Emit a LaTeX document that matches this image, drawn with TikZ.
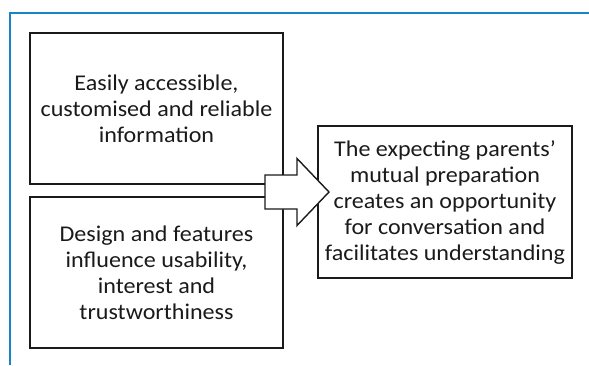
\documentclass[tikz,border=0pt]{standalone}
\usepackage{fontspec}
\setmainfont{Carlito}[FakeStretch=1.07]
\usetikzlibrary{positioning,calc}
\definecolor{frameblue}{RGB}{24,133,199}
\definecolor{ink}{RGB}{26,26,26}

\begin{document}
\begin{tikzpicture}[
    x=1pt, y=-1pt,
    font=\fontsize{22.5}{26}\selectfont,
    theme/.style={draw=ink, text=ink, line width=1.4pt, minimum width=253pt,
                  minimum height=151pt, align=center, inner sep=0pt, outer sep=0pt},
    outcome/.style={theme, minimum width=254pt, minimum height=152pt},
    bigarrow/.style={draw=ink, line width=1.4pt, fill=white, line join=miter},
    frame/.style={frameblue, line width=2pt},
  ]
  \useasboundingbox (0,0) rectangle (589,365);

  % --- frame line along top and left ---
  \coordinate (fb) at (10,365);
  \coordinate (fc) at (10,13);
  \coordinate (fr) at (589,13);
  \draw[frame] (fb) -- (fc) -- (fr);

  % --- two themes (left, stacked) ---
  \node[theme] (info) at (156.5,108.5)
    {Easily accessible,\\customised and reliable\\information};
  \node[theme, below=13pt of info] (design)
    {Design and features\\influence usability,\\interest and\\trustworthiness};

  % --- resulting theme (right) ---
  \coordinate (gap) at ($(info.south east)!0.5!(design.north east)$);
  \node[outcome, right=35pt of gap, yshift=-11.5pt] (mutual)
    {The expecting parents'\\mutual preparation\\creates an opportunity\\for conversation and\\facilitates understanding};

  % block arrow over the joint
  \coordinate (tail) at ($(gap)+(-18,1.5)$);
  \draw[bigarrow] ($(tail)+(0,-17)$) -- ++(32,0) -- ++(0,-16.5) -- ++(32,33.5)
    -- ++(-32,33.5) -- ++(0,-16.5) -- ++(-32,0) -- cycle;
\end{tikzpicture}
\end{document}
